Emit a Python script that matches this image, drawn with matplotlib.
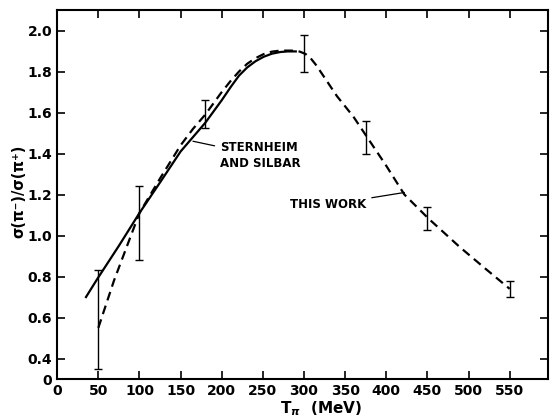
import matplotlib.pyplot as plt

# measured ratio with error bars
data_t = [50, 100, 180, 300, 375, 450, 550]
data_ratio = [0.59, 1.06, 1.59, 1.89, 1.48, 1.08, 0.74]
data_lo = [0.35, 0.88, 1.525, 1.80, 1.40, 1.025, 0.70]
data_hi = [0.83, 1.24, 1.66, 1.98, 1.56, 1.14, 0.78]

# "this work" curve (dashed)
work_t = [50, 69, 100, 126, 150, 165, 180, 200, 211, 221, 231, 241, 251,
          261, 271, 285, 295, 302, 308, 314, 320, 330, 340, 360, 375, 400,
          422, 451, 489, 520, 550]
work_ratio = [0.55, 0.78, 1.11, 1.285, 1.44, 1.52, 1.59, 1.70, 1.755, 1.80,
              1.838, 1.865, 1.885, 1.897, 1.902, 1.902, 1.897, 1.885, 1.865,
              1.835, 1.80, 1.74, 1.68, 1.58, 1.49, 1.34, 1.20, 1.084, 0.945,
              0.84, 0.74]

# Sternheim and Silbar curve (solid)
ss_t = [35, 49, 75, 100, 126, 150, 180, 200, 211, 221, 231, 241, 251, 261,
        271, 280, 290]
ss_ratio = [0.70, 0.79, 0.95, 1.11, 1.265, 1.41, 1.55, 1.66, 1.725, 1.78,
            1.82, 1.85, 1.872, 1.887, 1.895, 1.898, 1.898]

xticks = [0, 50, 100, 150, 200, 250, 300, 350, 400, 450, 500, 550]
yticks = [0.3, 0.4, 0.6, 0.8, 1.0, 1.2, 1.4, 1.6, 1.8, 2.0]
ytick_labels = ["0", "0.4", "0.6", "0.8", "1.0", "1.2", "1.4", "1.6", "1.8",
                "2.0"]

plt.rcParams["font.family"] = ["DejaVu Sans"]
plt.rcParams["font.weight"] = "bold"

fig = plt.figure(figsize=(5.5, 4.17), dpi=100)
ax = fig.add_axes([0.104, 0.091, 0.893, 0.885])

ax.plot(ss_t, ss_ratio, color="black", lw=1.6)
ax.plot(work_t, work_ratio, color="black", lw=1.6, ls=(0, (4, 2.5)))

yerr = [[r - lo for r, lo in zip(data_ratio, data_lo)],
        [hi - r for r, hi in zip(data_ratio, data_hi)]]
ax.errorbar(data_t, data_ratio, yerr=yerr, fmt="none", ecolor="black",
            elinewidth=1.0, capsize=3, capthick=1.0)

ax.annotate("STERNHEIM\nAND SILBAR", xy=(165, 1.46), xytext=(198, 1.39),
            fontsize=8.5, fontweight="bold", va="center", ha="left",
            linespacing=1.3,
            arrowprops=dict(arrowstyle="-", color="black", lw=0.9,
                            shrinkA=2, shrinkB=0))
ax.annotate("THIS WORK", xy=(422, 1.21), xytext=(283, 1.15),
            fontsize=8.5, fontweight="bold", va="center", ha="left",
            arrowprops=dict(arrowstyle="-", color="black", lw=0.9,
                            shrinkA=2, shrinkB=0))

ax.set_xlim(0, 597)
ax.set_ylim(0.3, 2.1)
ax.set_xticks(xticks)
ax.set_yticks(yticks)
ax.set_yticklabels(ytick_labels)
ax.tick_params(direction="in", length=6, width=1.2, labelsize=10,
               top=True, right=True)
for label in ax.get_xticklabels() + ax.get_yticklabels():
    label.set_fontweight("bold")
for spine in ax.spines.values():
    spine.set_linewidth(1.5)

ax.set_xlabel("T$_\\pi$  (MeV)", fontsize=11, fontweight="bold")
ax.xaxis.set_label_coords(0.537, -0.055)
ax.set_ylabel("σ(π⁻)/σ(π⁺)", fontsize=10.5, fontweight="bold")
ax.yaxis.set_label_coords(-0.063, 0.51)

fig.savefig("out.png", dpi=100)
